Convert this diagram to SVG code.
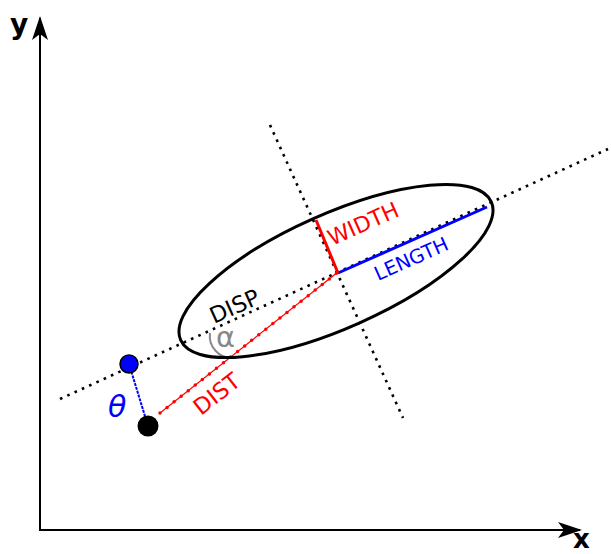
<svg xmlns="http://www.w3.org/2000/svg" width="611" height="554" viewBox="0 0 611 554">
<defs>
<style>
.t{font-family:"DejaVu Sans","Liberation Sans",sans-serif}
.dot{fill:none;stroke:#000;stroke-width:2.6;stroke-dasharray:2.6 5.4}
</style>
<marker id="ah" viewBox="0 0 24 16" refX="22" refY="8" markerWidth="24" markerHeight="16" markerUnits="userSpaceOnUse" orient="auto">
<path d="M0,0 L24,8 L0,16 L6,8 Z" fill="#000"/>
</marker>
</defs>
<rect width="611" height="554" fill="#fff"/>
<g id="axes">
<path d="M40,531 V18" stroke="#000" stroke-width="2" fill="none" marker-end="url(#ah)"/>
<path d="M39,530 H580" stroke="#000" stroke-width="2" fill="none" marker-end="url(#ah)"/>
<text x="10" y="34" class="t" font-size="28" font-weight="bold">y</text>
<text x="573" y="548" class="t" font-size="26" font-weight="bold">x</text>
</g>
<g id="connectors">
<line x1="60" y1="399" x2="608" y2="149" class="dot"/>
<line x1="270" y1="125" x2="403" y2="418" class="dot"/>
<line x1="129" y1="364" x2="148" y2="426" stroke="#00f" stroke-width="2" stroke-dasharray="3 1"/>
<line x1="160" y1="413" x2="338" y2="272" stroke="#f00" stroke-width="1.2"/>
<line x1="160" y1="413" x2="338" y2="272" stroke="#f00" stroke-width="3.5" stroke-linecap="round" stroke-dasharray="0 9"/>
<path d="M210,333 A22,22 0 0 0 232,358" fill="none" stroke="#888" stroke-width="2"/>
</g>
<g id="ellipse">
<ellipse cx="336" cy="271" rx="170" ry="57" transform="rotate(-24 336 271)" fill="none" stroke="#000" stroke-width="3"/>
</g>
<g id="length">
<line x1="338" y1="273" x2="487" y2="207" stroke="#00f" stroke-width="3"/>
<text class="t" font-size="19.5" fill="#00f" transform="translate(378,281) rotate(-24)">LENGTH</text>
</g>
<g id="width">
<line x1="316" y1="220" x2="338" y2="273" stroke="#f00" stroke-width="3"/>
<text class="t" font-size="22" fill="#f00" transform="translate(332,246) rotate(-24)">WIDTH</text>
</g>
<g id="disp">
<text class="t" font-size="22.5" fill="#000" transform="translate(214,324) rotate(-24)">DISP</text>
</g>
<g id="alpha">
<text class="t" font-size="29" fill="#888" x="216" y="347">α</text>
</g>
<g id="dist">
<text class="t" font-size="22.5" fill="#f00" transform="translate(201,416) rotate(-38)">DIST</text>
</g>
<g id="theta">
<text class="t" font-size="30" font-style="italic" fill="#00f" x="108" y="417">θ</text>
</g>
<g id="blue-point">
<circle cx="129" cy="364" r="9" fill="#00f" stroke="#000" stroke-width="1.5"/>
</g>
<g id="black-point">
<circle cx="148" cy="426" r="10.5" fill="#000"/>
</g>
</svg>
